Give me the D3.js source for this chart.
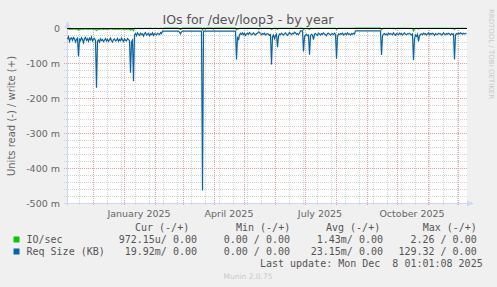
<!DOCTYPE html>
<html>
<head>
<meta charset="utf-8">
<script src="https://cdn.jsdelivr.net/npm/d3@7"></script>
<style>
body { margin: 0; background: #F0F0F0; }
svg text { font-family: "DejaVu Sans", sans-serif; }
svg text.mono { font-family: "DejaVu Sans Mono", monospace; white-space: pre; }
</style>
</head>
<body>
<svg id="chart" width="497" height="287"></svg>
<script>
// first day of the series, one value per day after that
const startDay = new Date(Date.UTC(2024, 10, 5));

// Req Size (KB), read side, in milli units (drawn as negative)
const reqSizeRead = [
  32,25,38,30,28,35,27,31,40,33,29,
  81,
  30,36,28,33,42,30,27,35,31,38,29,34,26,37,32,30,36,
  171,
  38,34,40,31,36,33,39,35,30,37,32,38,34,29,36,40,33,31,37,35,30,38,33,36,29,34,39,31,35,37,30,33,36,
  128,40,35,152,
  20,16,22,14,18,21,15,19,17,23,16,13,20,18,15,22,17,19,14,21,16,18,20,15,17,19,13,16,
  9,9,9,9,9,9,9,9,9,9,9,9,9,9,9,9,9,12,17,11,9,9,9,9,9,9,9,9,9,9,9,9,9,9,9,9,9,9,9,9,
  464,
  9,9,9,9,9,9,9,9,9,9,9,9,9,9,9,9,9,9,9,9,9,9,9,9,9,9,9,9,9,9,9,9,9,
  90,
  25,35,20,15,18,14,19,16,21,17,15,18,13,16,19,17,14,18,20,16,15,11,12,17,19,16,18,15,20,17,16,18,21,19,
  104,
  25,20,30,22,18,
  55,
  24,17,19,15,18,20,16,14,18,21,17,13,16,19,15,17,12,14,18,16,19,15,
  8,8,8,
  67,
  25,20,18,22,20,
  76,
  22,18,20,
  33,
  18,16,19,21,15,17,20,16,18,14,17,19,22,16,15,18,20,17,16,19,15,18,
  88,
  24,17,19,16,18,15,20,17,16,19,14,18,17,20,16,18,15,17,
  8,8,8,8,8,8,8,8,8,8,8,8,8,8,8,8,8,8,8,8,8,8,8,8,8,8,
  77,
  22,18,16,19,17,20,15,18,16,17,19,14,18,21,16,17,19,15,18,16,20,17,14,18,19,16,17,15,18,20,17,
  92,
  30,20,24,18,
  38,
  22,18,17,19,15,18,16,20,17,14,19,16,18,15,17,21,16,18,19,15,17,16,20,18,14,17,19,16,18,15,17,20,16,18,17,
  90,
  20,16,18,15,17,14,16,18,15,17,16,15
];

// IO/sec, read side, in milli units (drawn as negative)
const ioRead = [
  3,2,4,3,3,4,2,3,4,3,3,
  6,
  3,4,3,3,4,3,2,3,3,4,3,3,2,4,3,3,4,
  7,
  4,3,4,3,3,3,4,3,3,4,3,4,3,2,3,4,3,3,4,3,3,4,3,3,2,3,4,3,3,4,3,3,4,
  6,4,3,7,
  1,1,2,1,1,1,2,1,1,2,1,1,1,2,1,1,1,1,2,1,1,1,1,1,2,1,1,1,
  2,1,0,0,0,0,0,0,0,0,0,0,0,0,0,0,1,2,4,2,0,0,0,0,0,0,0,0,0,0,0,0,0,0,0,0,0,0,0,0,
  5,
  0,0,3,0,0,0,0,0,0,0,3,0,0,0,0,0,0,0,0,0,0,0,0,0,0,0,0,0,0,0,0,0,0,
  5,
  2,3,1,1,1,1,1,1,1,1,1,1,1,1,1,1,1,1,1,1,1,3,2,1,1,1,1,1,1,1,1,1,1,1,
  4,
  2,1,1,1,1,
  4,
  1,1,1,1,1,1,1,1,1,1,1,1,1,1,1,1,1,1,1,1,1,1,
  0,0,0,
  4,
  2,1,1,1,3,
  4,
  1,1,1,
  2,
  1,1,1,1,1,1,1,1,1,1,1,1,1,1,1,1,1,1,1,1,1,1,
  4,
  1,1,1,1,1,1,1,1,1,1,1,1,1,1,1,1,1,1,
  0,0,0,0,0,0,0,0,0,0,0,0,0,0,0,0,0,0,0,0,0,0,0,0,0,0,
  5,
  2,1,1,1,1,1,1,1,1,1,1,1,1,3,1,1,1,1,1,1,1,1,1,1,1,1,1,1,1,1,1,
  8,
  3,1,1,1,
  3,
  1,1,1,1,1,1,1,1,1,1,1,1,1,1,1,1,1,1,1,1,1,1,1,1,1,1,1,1,1,1,1,1,1,1,1,
  4,
  1,1,1,1,1,1,1,1,1,1,1,1
];

// axis labels
const xLabelMonths = [new Date(Date.UTC(2025,0,1)), new Date(Date.UTC(2025,3,1)),
                      new Date(Date.UTC(2025,6,1)), new Date(Date.UTC(2025,9,1))];
const yTicks = [0, -0.1, -0.2, -0.3, -0.4, -0.5];
const yTickLabels = ["0", "-100 m", "-200 m", "-300 m", "-400 m", "-500 m"];

// legend table
const legendNames = ["IO/sec", "Req Size (KB)"];
const legendColors = ["#00CC00", "#0066B3"];
const legendCur = ["972.15u/ 0.00", "19.92m/ 0.00"];
const legendMin = ["0.00 / 0.00", "0.00 / 0.00"];
const legendAvg = ["1.43m/ 0.00", "23.15m/ 0.00"];
const legendMax = ["2.26 / 0.00", "129.32 / 0.00"];

const svg = d3.select("#chart");

// background
svg.append("rect").attr("width", 497).attr("height", 287).attr("fill", "#F0F0F0");

const x = d3.scaleUtc()
  .domain([startDay, d3.utcDay.offset(startDay, 400)])
  .range([67, 467]);
const y = d3.scaleLinear().domain([-0.5, 0]).range([203, 28]);

// canvas
svg.append("rect")
  .attr("x", 67).attr("y", 28)
  .attr("width", 400).attr("height", 175)
  .attr("fill", "#FFFFFF");

const grid = svg.append("g").attr("shape-rendering", "crispEdges");

// minor grid: y every 20 m, x every second sunday
grid.selectAll(".hmin")
  .data(d3.range(-0.48, 0, 0.02).filter(v => Math.abs(Math.round(v*10) - v*10) > 0.01))
  .enter().append("line")
  .attr("x1", 64).attr("x2", 467)
  .attr("y1", d => Math.round(y(d)) + 0.5).attr("y2", d => Math.round(y(d)) + 0.5)
  .attr("stroke", "#d4d4d4").attr("stroke-dasharray", "1,1");

grid.selectAll(".vmin")
  .data(d3.utcSunday.range(new Date(Date.UTC(2024, 10, 3)), x.domain()[1], 2).filter(d => x(d) > 68))
  .enter().append("line")
  .attr("x1", d => Math.round(x(d)) + 0.5).attr("x2", d => Math.round(x(d)) + 0.5)
  .attr("y1", 28).attr("y2", 206)
  .attr("stroke", "#d4d4d4").attr("stroke-dasharray", "1,1");

// major grid
grid.selectAll(".hmaj")
  .data(yTicks.slice(1, 5))
  .enter().append("line")
  .attr("x1", 64).attr("x2", 467)
  .attr("y1", d => Math.round(y(d)) + 0.5).attr("y2", d => Math.round(y(d)) + 0.5)
  .attr("stroke", "#eba0a0").attr("stroke-dasharray", "1,1");

grid.selectAll(".vmaj")
  .data(d3.utcMonth.range(x.domain()[0], x.domain()[1]))
  .enter().append("line")
  .attr("x1", d => Math.round(x(d)) + 0.5).attr("x2", d => Math.round(x(d)) + 0.5)
  .attr("y1", 28).attr("y2", 206)
  .attr("stroke", "#eba0a0").attr("stroke-dasharray", "1,1");

// axes lines + arrows
grid.append("line").attr("x1", 67.5).attr("x2", 67.5).attr("y1", 206).attr("y2", 24)
  .attr("stroke", "#CFD6F8");
grid.append("line").attr("x1", 64).attr("x2", 470).attr("y1", 203.5).attr("y2", 203.5)
  .attr("stroke", "#CFD6F8");
svg.append("path").attr("d", "M64.5,28 L67.5,21 L70.5,28 Z").attr("fill", "#CFD6F8");
svg.append("path").attr("d", "M467,200.5 L474,203.5 L467,206.5 Z").attr("fill", "#CFD6F8");

// y tick labels
svg.selectAll(".ylab")
  .data(yTicks)
  .enter().append("text")
  .attr("x", 60).attr("y", d => y(d) + 3.5)
  .attr("text-anchor", "end")
  .style("font-size", "9.5px").attr("fill", "#666")
  .text((d, i) => yTickLabels[i]);

// x labels (rrdtool centers them half a month later)
svg.selectAll(".xlab")
  .data(xLabelMonths)
  .enter().append("text")
  .attr("x", d => x(d3.utcDay.offset(d, 15)))
  .attr("y", 217)
  .attr("text-anchor", "middle")
  .style("font-size", "9.5px").attr("fill", "#666")
  .text(d => d3.utcFormat("%B %Y")(d));

// lines
const days = reqSizeRead.map((v, i) => d3.utcDay.offset(startDay, i));
const line = d3.line()
  .x((d, i) => x(days[i]) + 0.5)
  .y(d => y(-d / 1000));

svg.append("path").datum(ioRead)
  .attr("d", line).attr("fill", "none")
  .attr("stroke", legendColors[0]).attr("stroke-width", 1.2);
svg.append("path").datum(reqSizeRead)
  .attr("d", line).attr("fill", "none")
  .attr("stroke", legendColors[1]).attr("stroke-width", 1.2);

// zero line
svg.append("line").attr("x1", 67).attr("x2", 467).attr("y1", 28.5).attr("y2", 28.5)
  .attr("stroke", "#000").attr("stroke-width", 1);

// title
svg.append("text")
  .attr("x", 248).attr("y", 24)
  .attr("text-anchor", "middle")
  .style("font-size", "12.5px").attr("fill", "#555")
  .text("IOs for /dev/loop3 - by year");

// vertical y title
svg.append("text")
  .attr("transform", "translate(15,116) rotate(-90)")
  .attr("text-anchor", "middle")
  .style("font-size", "10px").attr("fill", "#666")
  .text("Units read (-) / write (+)");

// rrdtool watermark
svg.append("text")
  .attr("transform", "translate(489,54) rotate(90)")
  .attr("text-anchor", "middle")
  .style("font-size", "7px").attr("fill", "#c8c8c8")
  .text("RRDTOOL / TOBI OETIKER");

// legend
const headers = [["Cur (-/+)", 135], ["Min (-/+)", 236], ["Avg (-/+)", 326], ["Max (-/+)", 422.7]];
svg.selectAll(".lhead")
  .data(headers)
  .enter().append("text")
  .attr("class", "mono")
  .attr("x", d => d[1]).attr("y", 230.5)
  .style("font-size", "10px").attr("fill", "#555")
  .text(d => d[0]);

const rows = svg.selectAll(".lrow")
  .data(legendNames)
  .enter().append("g")
  .attr("transform", (d, i) => `translate(0,${243 + i * 12})`);

rows.append("rect")
  .attr("x", 13.5).attr("y", -6.5).attr("width", 6).attr("height", 6)
  .attr("fill", (d, i) => legendColors[i]);

rows.append("text").attr("class", "mono")
  .attr("x", 26.5).attr("y", 0)
  .style("font-size", "10px").attr("fill", "#555")
  .text(d => d);

// value columns are right aligned on fixed columns
const cols = [[legendCur, 197], [legendMin, 290], [legendAvg, 383], [legendMax, 476.7]];
cols.forEach(c => {
  rows.append("text").attr("class", "mono")
    .attr("x", c[1]).attr("y", 0)
    .attr("text-anchor", "end")
    .style("font-size", "10px").attr("fill", "#555")
    .text((d, i) => c[0][i]);
});

svg.append("text").attr("class", "mono")
  .attr("x", 482.7).attr("y", 267)
  .attr("text-anchor", "end")
  .style("font-size", "10px").attr("fill", "#555")
  .text("Last update: Mon Dec  8 01:01:08 2025");

svg.append("text")
  .attr("x", 248).attr("y", 279)
  .attr("text-anchor", "middle")
  .style("font-size", "7.5px").attr("fill", "#c8c8c8")
  .text("Munin 2.0.75");
</script>
</body>
</html>
